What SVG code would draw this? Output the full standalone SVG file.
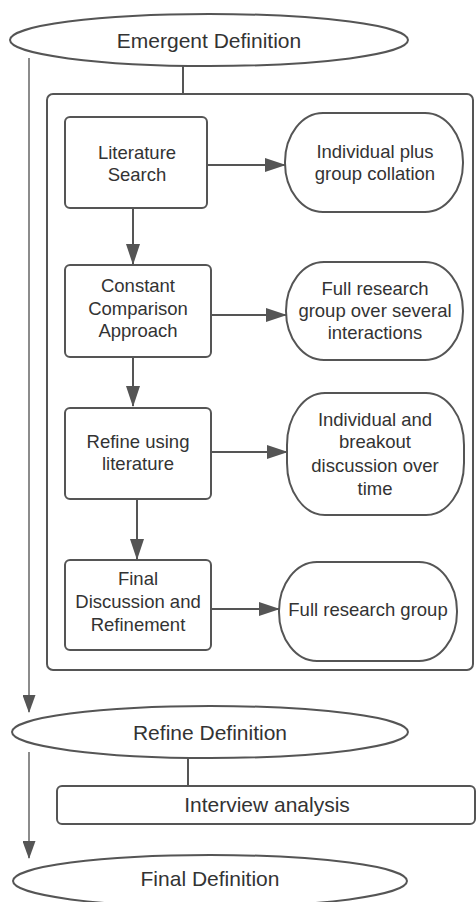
<svg xmlns="http://www.w3.org/2000/svg" width="476" height="902" viewBox="0 0 476 902">
<style>
.sh{fill:#fff;stroke:#555;stroke-width:2}
.box{fill:none;stroke:#555;stroke-width:2}
.ln{fill:none;stroke:#555;stroke-width:2}
.thin{fill:none;stroke:#666;stroke-width:1.5}
text{font-family:"Liberation Sans",Arial,sans-serif;fill:#333;text-anchor:middle;dominant-baseline:central}
.b{font-size:18.5px}
.e{font-size:21px}
</style>
<defs>
<marker id="ah" viewBox="0 0 21 14" refX="20" refY="7" markerWidth="21" markerHeight="14" markerUnits="userSpaceOnUse" orient="auto">
<path d="M0,0 L21,7 L0,14 Z" fill="#555"/>
</marker>
<marker id="ah2" viewBox="0 0 18 13" refX="17" refY="6.5" markerWidth="18" markerHeight="13" markerUnits="userSpaceOnUse" orient="auto">
<path d="M0,0 L18,6.5 L0,13 Z" fill="#555"/>
</marker>
</defs>
<rect width="476" height="902" fill="#fff"/>
<g id="container"><rect class="box" x="47" y="94" width="426" height="576" rx="6"/></g>
<g id="connectors">
<line class="ln" x1="183" y1="66" x2="183" y2="94"/>
<line class="thin" x1="29" y1="58" x2="29" y2="712" marker-end="url(#ah2)"/>
<line class="thin" x1="29" y1="752" x2="29" y2="858" marker-end="url(#ah2)"/>
<line class="ln" x1="188" y1="758" x2="188" y2="786"/>
<line class="ln" x1="207" y1="165" x2="285" y2="165" marker-end="url(#ah)"/>
<line class="ln" x1="211" y1="315" x2="286" y2="315" marker-end="url(#ah)"/>
<line class="ln" x1="211" y1="452" x2="287" y2="452" marker-end="url(#ah)"/>
<line class="ln" x1="211" y1="609" x2="279" y2="609" stroke-width="1.5" marker-end="url(#ah)"/>
<line class="ln" x1="133" y1="208" x2="133" y2="264" marker-end="url(#ah)"/>
<line class="ln" x1="133" y1="357" x2="133" y2="406" marker-end="url(#ah)"/>
<line class="ln" x1="137" y1="499" x2="137" y2="559" marker-end="url(#ah)"/>
</g>
<g id="emergent"><ellipse class="sh" cx="209" cy="40" rx="199" ry="26"/><text class="e" x="209" y="40">Emergent Definition</text></g>
<g id="lit"><rect class="sh" x="65" y="117" width="142" height="91" rx="5"/><text class="b" x="137" y="152">Literature</text><text class="b" x="137" y="174">Search</text></g>
<g id="ind1"><rect class="sh" x="285" y="113" width="178" height="99" rx="38" ry="49"/><text class="b" x="375" y="151">Individual plus</text><text class="b" x="375" y="173">group collation</text></g>
<g id="ccomp"><rect class="sh" x="65" y="265" width="146" height="92" rx="5"/><text class="b" x="138" y="285">Constant</text><text class="b" x="138" y="308">Comparison</text><text class="b" x="138" y="330">Approach</text></g>
<g id="full1"><rect class="sh" x="286" y="262" width="177" height="98" rx="38" ry="49"/><text class="b" x="375" y="288">Full research</text><text class="b" x="375" y="310">group over several</text><text class="b" x="375" y="332">interactions</text></g>
<g id="refine"><rect class="sh" x="65" y="408" width="146" height="91" rx="5"/><text class="b" x="138" y="441">Refine using</text><text class="b" x="138" y="463">literature</text></g>
<g id="ind2"><rect class="sh" x="287" y="393" width="177" height="122" rx="38" ry="52"/><text class="b" x="375" y="419">Individual and</text><text class="b" x="375" y="441">breakout</text><text class="b" x="375" y="465">discussion over</text><text class="b" x="375" y="488">time</text></g>
<g id="finaldisc"><rect class="sh" x="65" y="560" width="146" height="90" rx="5"/><text class="b" x="138" y="578">Final</text><text class="b" x="138" y="601">Discussion and</text><text class="b" x="138" y="624">Refinement</text></g>
<g id="full2"><rect class="sh" x="279" y="562" width="178" height="99" rx="38" ry="49"/><text class="b" x="368" y="609">Full research group</text></g>
<g id="refinedef"><ellipse class="sh" cx="210" cy="732" rx="198" ry="26"/><text class="e" x="210" y="732">Refine Definition</text></g>
<g id="interview"><rect class="sh" x="57" y="786" width="418" height="38" rx="5"/><text class="e" x="267" y="804">Interview analysis</text></g>
<g id="finaldef"><ellipse class="sh" cx="210" cy="881" rx="197" ry="26"/><text class="e" x="210" y="878">Final Definition</text></g>
</svg>
